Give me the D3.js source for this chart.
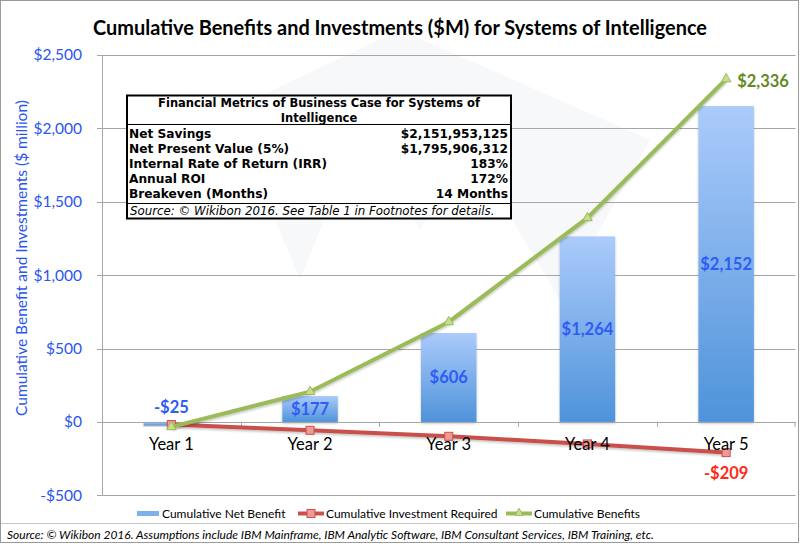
<!DOCTYPE html>
<html><head><meta charset="utf-8">
<script src="https://cdn.jsdelivr.net/npm/d3@7"></script>
<style>
body{margin:0;background:#fff;}
svg{display:block;}
</style></head>
<body>
<svg id="chart" width="800" height="544"></svg>
<script>
const categories = ["Year 1","Year 2","Year 3","Year 4","Year 5"];
const netBenefit = [-25, 177, 606, 1264, 2152];
const investment = [-18, -57, -98, -150, -209];
const benefits = [-34, 206, 681, 1390, 2336];
const yTicks = [-500, 0, 500, 1000, 1500, 2000, 2500];
const tableRows = [
  ["Net Savings", "$2,151,953,125"],
  ["Net Present Value (5%)", "$1,795,906,312"],
  ["Internal Rate of Return (IRR)", "183%"],
  ["Annual ROI", "172%"],
  ["Breakeven (Months)", "14 Months"]
];
const legendItems = ["Cumulative Net Benefit","Cumulative Investment Required","Cumulative Benefits"];

const svg = d3.select("#chart");
const W = 800, H = 544;
const cal = "Lato, 'Open Sans', sans-serif";

// outer border
svg.append("rect").attr("x",0.5).attr("y",0.5).attr("width",W-2).attr("height",H-2)
  .attr("fill","#fff").attr("stroke","#9a9a9a");

const x = d3.scaleBand().domain(categories).range([102, 795.5]).padding(0);
const y = d3.scaleLinear().domain([-500, 2500]).range([495.3, 55]);

// faint watermark logo
const wm = svg.append("g").attr("fill","#f7f8fa");
wm.append("path").attr("d","M230,110 L400,30 L650,140 L560,300 L470,150 L420,230 L360,130 L300,280 Z");

// gridlines
svg.append("g").selectAll("line").data(yTicks).join("line")
  .attr("x1",97).attr("x2",795.5)
  .attr("y1",d=>Math.round(y(d))+0.5).attr("y2",d=>Math.round(y(d))+0.5)
  .attr("stroke","#a6a6a6").attr("stroke-width",1);

// y axis line
svg.append("line").attr("x1",102.5).attr("x2",102.5).attr("y1",y(2500)).attr("y2",y(-500))
  .attr("stroke","#a6a6a6");

// y tick labels
svg.append("g").selectAll("text").data(yTicks).join("text")
  .attr("x",82).attr("y",d=>y(d)).attr("dy","0.35em").attr("text-anchor","end")
  .attr("font-family",cal).attr("font-size",15.5).attr("fill","#2b55f0")
  .text(d=> (d<0?"-$":"$") + d3.format(",")(Math.abs(d)));

// y axis title
svg.append("text").attr("transform","translate(27,258) rotate(-90)")
  .attr("text-anchor","middle").attr("font-family",cal).attr("font-size",15.5)
  .attr("fill","#2b55f0").text("Cumulative Benefit and Investments ($ million)");

// x ticks at 0
svg.append("g").selectAll("line").data(categories.slice(1)).join("line")
  .attr("x1",d=>Math.round(x(d))+0.5).attr("x2",d=>Math.round(x(d))+0.5)
  .attr("y1",y(0)).attr("y2",y(0)+5).attr("stroke","#a6a6a6");
svg.append("line").attr("x1",795).attr("x2",795).attr("y1",y(0)).attr("y2",y(0)+5).attr("stroke","#a6a6a6");

// bars
const defs = svg.append("defs");
const grad = defs.append("linearGradient").attr("id","barGrad").attr("x1",0).attr("y1",0).attr("x2",0).attr("y2",1);
grad.append("stop").attr("offset","0%").attr("stop-color","#abcbfb");
grad.append("stop").attr("offset","100%").attr("stop-color","#4f93da");
const f = defs.append("filter").attr("id","shadow").attr("x","-20%").attr("y","-20%").attr("width","140%").attr("height","140%");
f.append("feDropShadow").attr("dx",0).attr("dy",1.5).attr("stdDeviation",1.2).attr("flood-color","#000").attr("flood-opacity",0.25);

const bw = x.bandwidth()*0.4;
svg.append("g").selectAll("rect").data(categories).join("rect")
  .attr("x",(d)=>x(d)+x.bandwidth()/2-bw/2)
  .attr("width",bw)
  .attr("y",(d,i)=>y(Math.max(0,netBenefit[i])))
  .attr("height",(d,i)=>Math.abs(y(netBenefit[i])-y(0)))
  .attr("fill","url(#barGrad)").attr("filter","url(#shadow)");

// zero axis line
svg.append("line").attr("x1",102).attr("x2",795.5).attr("y1",Math.round(y(0))+0.5).attr("y2",Math.round(y(0))+0.5)
  .attr("stroke","#a6a6a6");

// lines
const cx = d=>x(d)+x.bandwidth()/2;
function drawLine(vals, color, mcolor, shape){
  const line = d3.line().x((d,i)=>cx(categories[i])).y(d=>y(d));
  svg.append("path").datum(vals).attr("d",line).attr("fill","none")
    .attr("stroke",color).attr("stroke-width",4).attr("filter","url(#shadow)");
  const g = svg.append("g");
  vals.forEach((v,i)=>{
    if(shape==="square"){
      g.append("rect").attr("x",cx(categories[i])-4).attr("y",y(v)-4).attr("width",8).attr("height",8)
        .attr("fill",mcolor).attr("stroke",color).attr("stroke-width",1);
    } else {
      g.append("path").attr("d",d3.symbol(d3.symbolTriangle,40)()).attr("transform",`translate(${cx(categories[i])},${y(v)})`)
        .attr("fill",mcolor).attr("stroke",color).attr("stroke-width",1);
    }
  });
}
drawLine(investment, "#c9504c", "#f09a98", "square");
drawLine(benefits, "#9bbb59", "#c6dd8f", "triangle");

// x labels (drawn over the lines)
svg.append("g").selectAll("text").data(categories).join("text")
  .attr("x",d=>x(d)+x.bandwidth()/2).attr("y",y(0)+22).attr("dy","0.35em").attr("text-anchor","middle")
  .attr("font-family",cal).attr("font-size",16.5).attr("fill","#000").text(d=>d);

// bar labels
svg.append("g").selectAll("text").data(categories).join("text")
  .attr("x",d=>cx(d))
  .attr("y",(d,i)=> netBenefit[i] < 100 ? y(0)-15 : (y(netBenefit[i])+y(0))/2)
  .attr("dy","0.35em").attr("text-anchor","middle")
  .attr("font-family",cal).attr("font-weight","bold").attr("font-size",16.5)
  .attr("fill","#2f5cf5")
  .text((d,i)=> (netBenefit[i]<0?"-$":"$") + d3.format(",")(Math.abs(netBenefit[i])));

// end labels
const last = categories.length-1;
svg.append("text").attr("x",cx(categories[last])+11).attr("y",y(benefits[last])+2).attr("dy","0.35em")
  .attr("font-family",cal).attr("font-weight","bold").attr("font-size",16.5).attr("fill","#648a1f")
  .text("$"+d3.format(",")(benefits[last]));
svg.append("text").attr("x",cx(categories[last])).attr("y",y(investment[last])+21).attr("dy","0.35em")
  .attr("text-anchor","middle")
  .attr("font-family",cal).attr("font-weight","bold").attr("font-size",16.5).attr("fill","#ff2a1a")
  .text("-$"+d3.format(",")(Math.abs(investment[last])));

// title
svg.append("text").attr("x",400).attr("y",28).attr("dy","0.35em").attr("text-anchor","middle")
  .attr("font-family",cal).attr("font-weight","bold").attr("font-size",20).attr("fill","#000")
  .attr("textLength",614).attr("lengthAdjust","spacingAndGlyphs")
  .text("Cumulative Benefits and Investments ($M) for Systems of Intelligence");

// metrics table
const tb = svg.append("g");
const tx0 = 127, tx1 = 511, ty0 = 95.5, ty1 = 218.5;
tb.append("rect").attr("x",tx0).attr("y",ty0).attr("width",tx1-tx0).attr("height",ty1-ty0)
  .attr("fill","#fff").attr("stroke","#000").attr("stroke-width",2);
tb.append("line").attr("x1",tx0).attr("x2",tx1).attr("y1",124.5).attr("y2",124.5).attr("stroke","#000").attr("stroke-width",1.2);
tb.append("line").attr("x1",tx0).attr("x2",tx1).attr("y1",203.5).attr("y2",203.5).attr("stroke","#000").attr("stroke-width",1.2);
const tf = "'DejaVu Sans', Verdana, sans-serif";
tb.append("text").attr("x",(tx0+tx1)/2).attr("y",103).attr("dy","0.35em").attr("text-anchor","middle")
  .attr("font-family",tf).attr("font-weight","bold").attr("font-size",11.5).text("Financial Metrics of Business Case for Systems of");
tb.append("text").attr("x",(tx0+tx1)/2).attr("y",117.5).attr("dy","0.35em").attr("text-anchor","middle")
  .attr("font-family",tf).attr("font-weight","bold").attr("font-size",11.5).text("Intelligence");
tableRows.forEach((r,i)=>{
  const yy = 133.3 + i*15;
  tb.append("text").attr("x",tx0+2).attr("y",yy).attr("dy","0.35em")
    .attr("font-family",tf).attr("font-weight","bold").attr("font-size",12.2).text(r[0]);
  tb.append("text").attr("x",tx1-3).attr("y",yy).attr("dy","0.35em").attr("text-anchor","end")
    .attr("font-family",tf).attr("font-weight","bold").attr("font-size",12.2).text(r[1]);
});
tb.append("text").attr("x",tx0+3).attr("y",211).attr("dy","0.35em")
  .attr("font-family",tf).attr("font-style","italic").attr("font-size",11.8)
  .text("Source: © Wikibon 2016. See Table 1 in Footnotes for details.");

// legend
const lg = svg.append("g");
const lx = [137, 298, 506];
const lcol = [["#6fa6e8","#8ab8f0"],["#c9504c","#f09a98"],["#9bbb59","#c6dd8f"]];
legendItems.forEach((t,i)=>{
  if(i===0){
    lg.append("rect").attr("x",lx[i]).attr("y",511).attr("width",22).attr("height",5).attr("fill","#7eb0ee");
  } else {
    lg.append("line").attr("x1",lx[i]).attr("x2",lx[i]+26).attr("y1",513.5).attr("y2",513.5)
      .attr("stroke",lcol[i][0]).attr("stroke-width",4);
    if(i===1) lg.append("rect").attr("x",lx[i]+9).attr("y",509.5).attr("width",8).attr("height",8).attr("fill",lcol[i][1]).attr("stroke",lcol[i][0]);
    else lg.append("path").attr("d",d3.symbol(d3.symbolTriangle,30)()).attr("transform",`translate(${lx[i]+13},513)`).attr("fill",lcol[i][1]).attr("stroke",lcol[i][0]);
  }
  lg.append("text").attr("x",lx[i]+(i===0?25:28)).attr("y",513.5).attr("dy","0.35em")
    .attr("font-family",cal).attr("font-size",12).attr("fill","#000").text(t);
});

// footer line & source
svg.append("line").attr("x1",1).attr("x2",797).attr("y1",523.5).attr("y2",523.5).attr("stroke","#c8c8c8");
svg.append("text").attr("x",7).attr("y",534.5).attr("dy","0.35em")
  .attr("font-family",cal).attr("font-style","italic").attr("font-size",12).attr("fill","#000")
  .text("Source: © Wikibon 2016. Assumptions include IBM Mainframe, IBM Analytic Software, IBM Consultant Services, IBM Training, etc.");
</script>
</body></html>
